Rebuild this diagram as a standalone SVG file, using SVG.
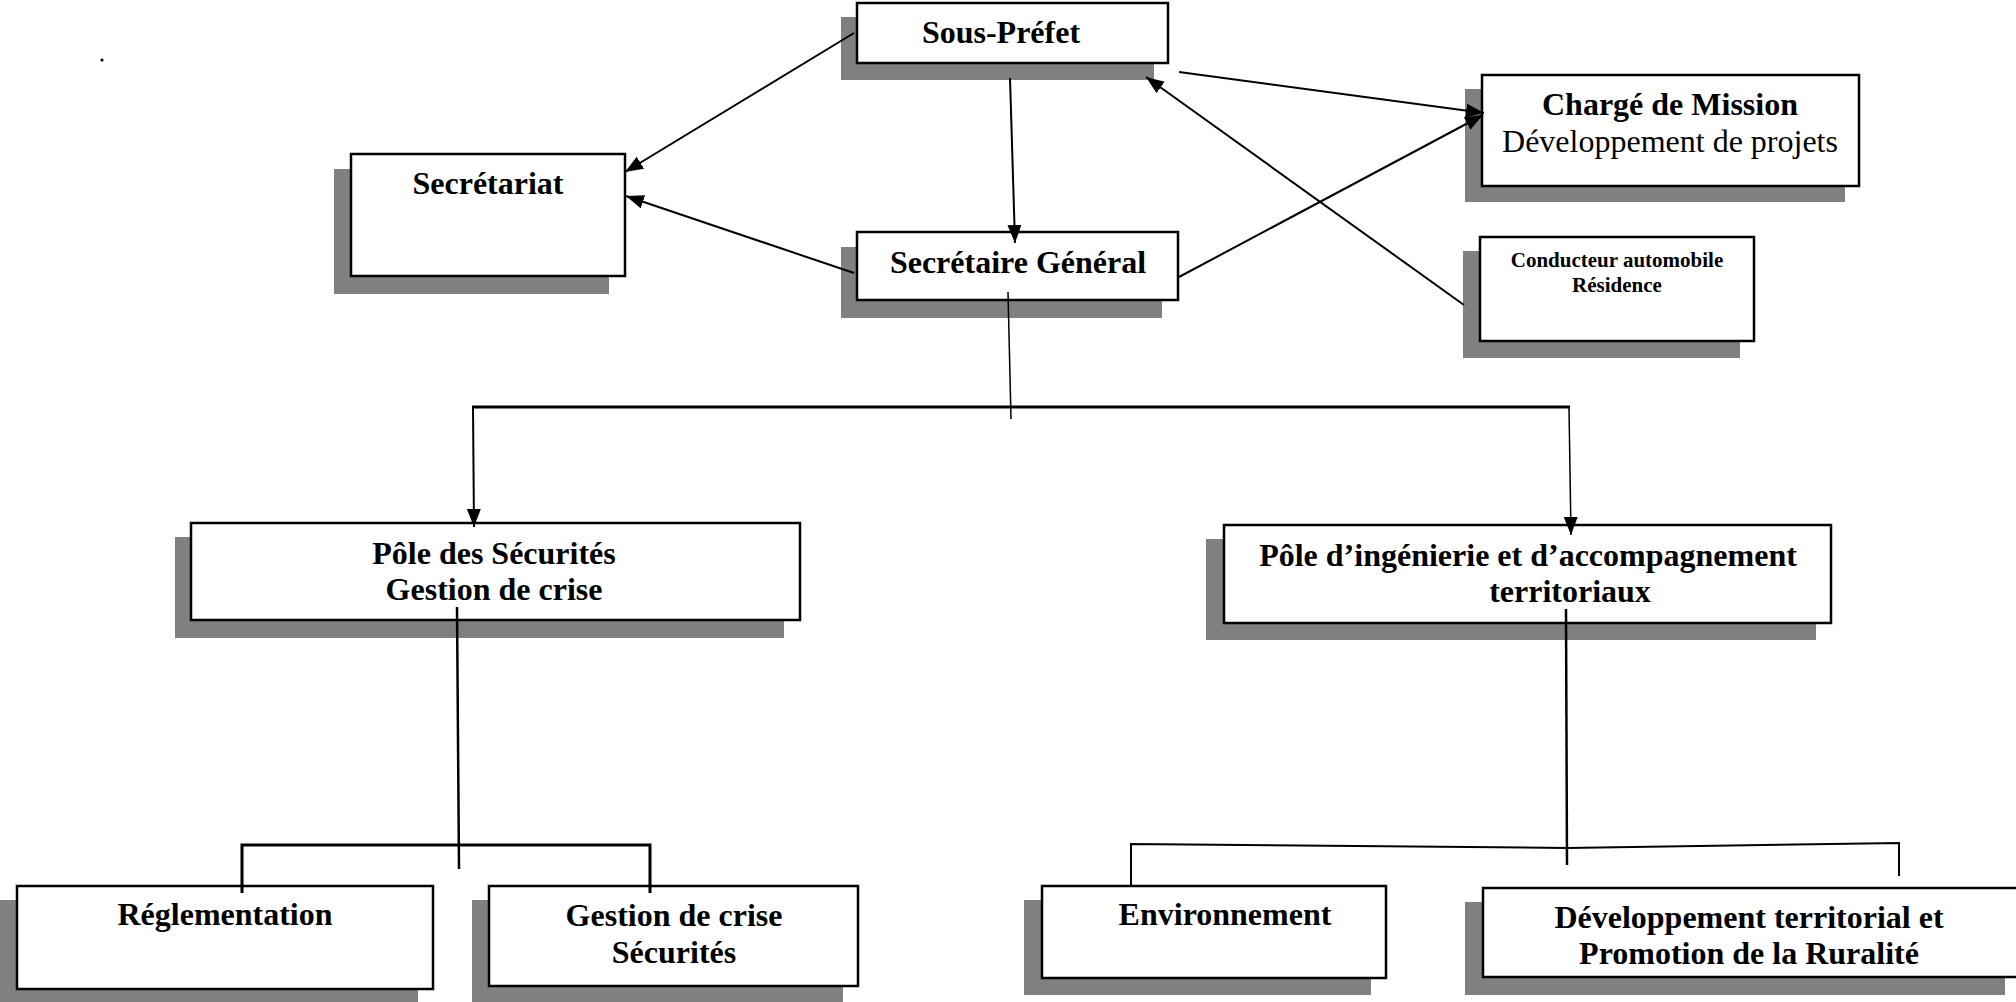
<svg xmlns="http://www.w3.org/2000/svg" width="2016" height="1002" viewBox="0 0 2016 1002">
<style>
.shadow{fill:#808080;stroke:none}
.box{fill:#fff;stroke:#000;stroke-width:2.5}
.t{font-family:"Liberation Serif","Times New Roman",serif;font-weight:bold;font-size:32px;fill:#000;text-anchor:middle}
.r{font-weight:normal}
.s{font-size:21px}
.c{fill:none;stroke:#000;stroke-width:2}
.a{marker-end:url(#ah)}
</style>
<defs>
<marker id="ah" markerUnits="userSpaceOnUse" markerWidth="19" markerHeight="15" refX="18" refY="7" orient="auto">
<path d="M0,0 L18,7 L0,14 z" fill="#000"/>
</marker>
</defs>
<rect width="2016" height="1002" fill="#fff"/>
<circle cx="102" cy="60" r="1.6" fill="#000"/>

<g id="sous-prefet">
<rect class="shadow" x="841" y="17" width="313" height="63"/>
<rect class="box" x="857" y="3" width="311" height="60"/>
<text class="t" x="1001" y="43">Sous-Préfet</text>
</g>
<g id="secretariat">
<rect class="shadow" x="334" y="169" width="275" height="125"/>
<rect class="box" x="351" y="154" width="274" height="122"/>
<text class="t" x="488" y="194">Secrétariat</text>
</g>
<g id="secretaire-general">
<rect class="shadow" x="841" y="247" width="321" height="71"/>
<rect class="box" x="857" y="232" width="321" height="68"/>
<text class="t" x="1018" y="273">Secrétaire Général</text>
</g>
<g id="charge-mission">
<rect class="shadow" x="1465" y="89" width="380" height="113"/>
<rect class="box" x="1482" y="75" width="377" height="111"/>
<text class="t" x="1670" y="115">Chargé de Mission</text>
<text class="t r" x="1670" y="152">Développement de projets</text>
</g>
<g id="conducteur">
<rect class="shadow" x="1463" y="251" width="277" height="107"/>
<rect class="box" x="1480" y="237" width="274" height="104"/>
<text class="t s" x="1617" y="267">Conducteur automobile</text>
<text class="t s" x="1617" y="292">Résidence</text>
</g>
<g id="pole-securites">
<rect class="shadow" x="175" y="537" width="609" height="101"/>
<rect class="box" x="191" y="523" width="609" height="97"/>
<text class="t" x="494" y="564">Pôle des Sécurités</text>
<text class="t" x="494" y="600">Gestion de crise</text>
</g>
<g id="pole-ingenierie">
<rect class="shadow" x="1206" y="539" width="610" height="101"/>
<rect class="box" x="1224" y="525" width="607" height="98"/>
<text class="t" x="1528" y="566">Pôle d’ingénierie et d’accompagnement</text>
<text class="t" x="1570" y="602">territoriaux</text>
</g>
<g id="reglementation">
<rect class="shadow" x="-2" y="900" width="420" height="104"/>
<rect class="box" x="17" y="886" width="416" height="103"/>
<text class="t" x="225" y="925">Réglementation</text>
</g>
<g id="gestion-crise">
<rect class="shadow" x="472" y="900" width="371" height="104"/>
<rect class="box" x="489" y="886" width="369" height="100"/>
<text class="t" x="674" y="926">Gestion de crise</text>
<text class="t" x="674" y="963">Sécurités</text>
</g>
<g id="environnement">
<rect class="shadow" x="1024" y="900" width="347" height="95"/>
<rect class="box" x="1042" y="886" width="344" height="92"/>
<text class="t" x="1225" y="925">Environnement</text>
</g>
<g id="developpement">
<rect class="shadow" x="1465" y="902" width="540" height="93"/>
<rect class="box" x="1483" y="888" width="545" height="89"/>
<text class="t" x="1749" y="928">Développement territorial et</text>
<text class="t" x="1749" y="964">Promotion de la Ruralité</text>
</g>

<g id="connectors">
<line class="c a" x1="854" y1="33" x2="625" y2="172"/>
<line class="c a" x1="854" y1="273" x2="626" y2="196"/>
<line class="c a" x1="1010" y1="78" x2="1015" y2="243"/>
<line class="c a" x1="1179" y1="72" x2="1484" y2="113"/>
<line class="c a" x1="1179" y1="277" x2="1483" y2="115"/>
<line class="c a" x1="1464" y1="305" x2="1146" y2="77"/>
<line class="c" style="stroke-width:1.5" x1="1008" y1="292" x2="1011" y2="419"/>
<line class="c" style="stroke-width:3" x1="472" y1="407" x2="1570" y2="407"/>
<line class="c a" x1="473" y1="407" x2="474" y2="527"/>
<line class="c a" style="stroke-width:1.5" x1="1569" y1="407" x2="1571" y2="535"/>
<line class="c" style="stroke-width:2.5" x1="457" y1="607" x2="459" y2="869"/>
<polyline class="c" style="stroke-width:3" points="242,893 242,845 650,845 650,893"/>
<line class="c" style="stroke-width:2.5" x1="1566" y1="609" x2="1567" y2="865"/>
<polyline class="c" style="stroke-width:2" points="1131,885 1131,844 1567,848 1899,843 1899,876"/>
</g>
</svg>
